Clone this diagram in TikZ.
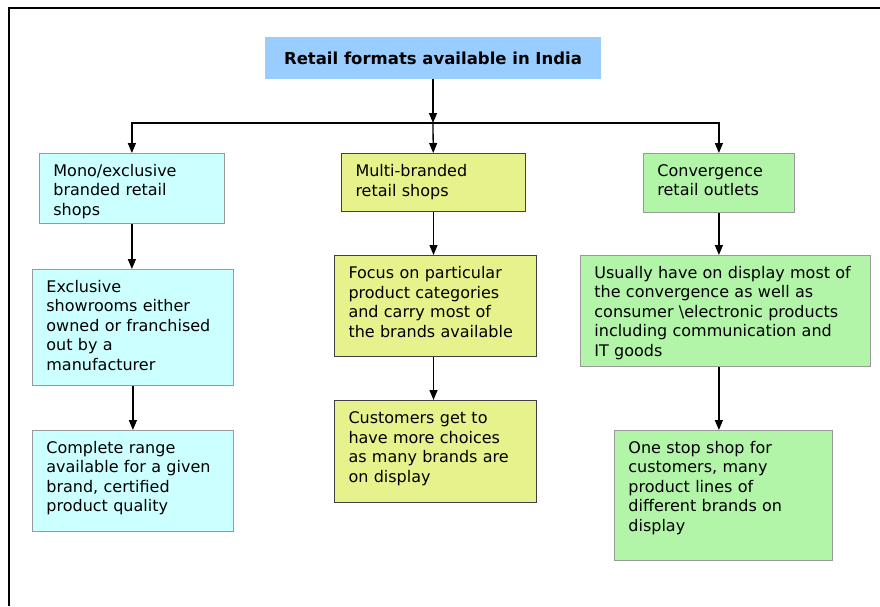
\documentclass[tikz,border=0pt]{standalone}
\usepackage{fontspec}
\setmainfont{DejaVu Sans}
\usetikzlibrary{arrows.meta}

\definecolor{monocyan}{RGB}{204,255,255}
\definecolor{multiyellow}{RGB}{232,242,140}
\definecolor{convgreen}{RGB}{178,245,168}
\definecolor{titleblue}{RGB}{153,204,255}

\tikzset{
  fmtbox/.style={anchor=north west, align=left, inner xsep=14pt, inner ysep=10pt,
    text height=13pt, font=\fontsize{16}{19.5}\selectfont},
  monobox/.style={fmtbox, fill=monocyan, draw=black!40, line width=0.8pt},
  multibox/.style={fmtbox, fill=multiyellow, draw=black!75, line width=1pt},
  convbox/.style={fmtbox, fill=convgreen, draw=black!40, line width=0.8pt},
  arr/.style={-{Triangle[width=8pt,length=10pt]}, line width=1.3pt}
}

\begin{document}
\begin{tikzpicture}[x=1pt, y=-1pt]

\useasboundingbox (0,0) rectangle (880,606);
\draw[line width=1.6pt] (9,606) to (9,8) to (880,8);

\node[fill=titleblue, minimum width=336pt, minimum height=42pt,
  font=\fontsize{16.5}{19}\selectfont\bfseries] (title) at (433,58)
  {Retail formats available in India};
\coordinate (fork) at (433,123);

% left column
\node[monobox, text width=157pt, text depth=37pt] (mono) at (39,153)
  {Mono/exclusive\\ branded retail\\ shops};
\node[monobox, text width=173pt, text depth=83pt] (monoshow) at (32,269)
  {Exclusive\\ showrooms either\\ owned or franchised\\ out by a\\ manufacturer};
\node[monobox, text width=173pt, text depth=68pt] (monorange) at (32,430)
  {Complete range\\ available for a given\\ brand, certified\\ product quality};

% middle column
\node[multibox, text width=156pt, text depth=25pt] (multi) at (341,153)
  {Multi-branded\\ retail shops};
\node[multibox, text width=174pt, text depth=68pt] (multifocus) at (334,255)
  {Focus on particular\\ product categories\\ and carry most of\\ the brands available};
\node[multibox, text width=174pt, text depth=69pt] (multichoice) at (334,400)
  {Customers get to\\ have more choices\\ as many brands are\\ on display};

% right column
\node[convbox, text width=123pt, text depth=26pt] (conv) at (643,153)
  {Convergence\\ retail outlets};
\node[convbox, text width=262pt, text depth=78pt] (convdisplay) at (580,255)
  {Usually have on display most of\\ the convergence as well as\\
   consumer \textbackslash electronic products\\ including communication and\\ IT goods};
\node[convbox, text width=190pt, text depth=97pt] (convstop) at (614,430)
  {One stop shop for\\ customers, many\\ product lines of\\ different brands on\\ display};

\draw[arr] (title) to (fork);
\draw[arr] (fork) -| (mono);
\draw[arr] (fork) to (multi);
\draw[arr] (fork) -| (conv);

\draw[arr] (mono.south) to (mono.south |- monoshow.north);
\draw[arr] (monoshow.south) to (monoshow.south |- monorange.north);
\draw[arr] (multi.south) to (multi.south |- multifocus.north);
\draw[arr] (multi.south |- multifocus.south) to (multi.south |- multichoice.north);
\draw[arr] (conv.south) to (conv.south |- convdisplay.north);
\draw[arr] (conv.south |- convdisplay.south) to (conv.south |- convstop.north);

\end{tikzpicture}
\end{document}
